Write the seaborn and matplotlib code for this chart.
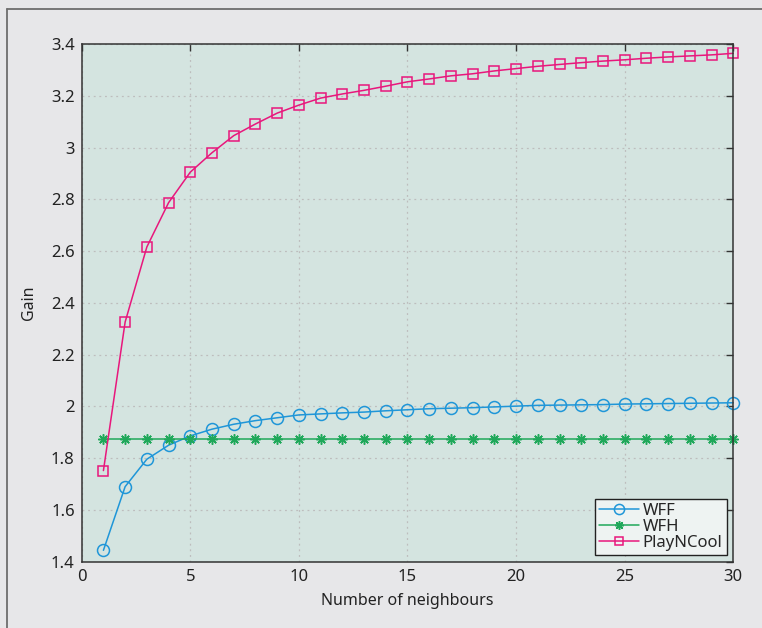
import matplotlib
matplotlib.use("Agg")
import matplotlib.pyplot as plt
import seaborn as sns
import pandas as pd
from matplotlib.lines import Line2D

neighbours = list(range(1, 31))
wff = [1.444, 1.690, 1.796, 1.850, 1.886, 1.912, 1.931, 1.945, 1.956, 1.967,
       1.971, 1.975, 1.978, 1.983, 1.987, 1.991, 1.993, 1.995, 1.998, 2.001,
       2.004, 2.005, 2.006, 2.007, 2.009, 2.010, 2.011, 2.012, 2.013, 2.014]
wfh = [1.875] * 30
playncool = [1.752, 2.326, 2.616, 2.787, 2.905, 2.980, 3.046, 3.091, 3.133, 3.164,
             3.191, 3.207, 3.221, 3.237, 3.254, 3.265, 3.277, 3.285, 3.296, 3.305,
             3.314, 3.321, 3.328, 3.334, 3.339, 3.345, 3.350, 3.354, 3.358, 3.364]
series_names = ["WFF", "WFH", "PlayNCool"]
xticks = [0, 5, 10, 15, 20, 25, 30]
yticks = [1.4, 1.6, 1.8, 2.0, 2.2, 2.4, 2.6, 2.8, 3.0, 3.2, 3.4]
ytick_labels = ["1.4", "1.6", "1.8", "2", "2.2", "2.4", "2.6", "2.8", "3", "3.2", "3.4"]

df = pd.DataFrame({
    "x": neighbours * 3,
    "Gain": wff + wfh + playncool,
    "series": [series_names[0]] * 30 + [series_names[1]] * 30 + [series_names[2]] * 30,
})

sns.set_theme(style="white")
plt.rcParams["font.family"] = ["Noto Sans", "DejaVu Sans"]

colors = {"WFF": "#1f96d8", "WFH": "#1fa85a", "PlayNCool": "#e8177c"}
markers = {"WFF": "o", "WFH": (8, 2, 0), "PlayNCool": "s"}
msizes = {"WFF": 8.6, "WFH": 7.4, "PlayNCool": 7.6}

fig = plt.figure(figsize=(7.62, 6.28), dpi=100, facecolor="#e7e7e9")
ax = fig.add_axes([81.7 / 762, 1 - 561.7 / 628, (733.3 - 81.7) / 762, (561.7 - 44) / 628])
ax.set_facecolor("#d4e4e0")

for name in series_names:
    sub = df[df["series"] == name]
    sns.lineplot(data=sub, x="x", y="Gain", ax=ax, color=colors[name],
                 marker=markers[name], markersize=msizes[name],
                 markerfacecolor="none", markeredgecolor=colors[name],
                 markeredgewidth=1.1, linewidth=1.1, label=name, clip_on=False)

ax.set_xlim(0, 30)
ax.set_ylim(1.4, 3.4)
ax.set_xticks(xticks)
ax.set_yticks(yticks)
ax.set_yticklabels(ytick_labels)
ax.grid(True, linestyle=(0, (1.5, 3)), color="#bdbdbd", linewidth=0.9)
ax.tick_params(direction="in", top=True, right=True, length=5, width=1,
               color="#333333", labelsize=12, labelcolor="#222222", pad=5)
for s in ax.spines.values():
    s.set_color("#333333")
    s.set_linewidth(1.1)
ax.set_xlabel("Number of neighbours", fontsize=11.5, color="#222222", labelpad=6)
ax.set_ylabel("Gain", fontsize=11.5, color="#222222", labelpad=10)

leg = ax.legend(loc="lower right", fontsize=12, frameon=True, fancybox=False,
                borderpad=0.25, labelspacing=0.0, handlelength=2.4,
                handletextpad=0.2, borderaxespad=0.4, markerscale=0.85)
leg.get_frame().set_edgecolor("#222222")
leg.get_frame().set_facecolor("#eef3f2")
leg.get_frame().set_linewidth(1.0)
leg.get_frame().set_alpha(1)

# figure frame (top and left border)
fig.add_artist(Line2D([7 / 762, 1.0], [1 - 9 / 628, 1 - 9 / 628], color="#6e6e6e", linewidth=1.3, transform=fig.transFigure))
fig.add_artist(Line2D([7 / 762, 7 / 762], [0.0, 1 - 9 / 628], color="#6e6e6e", linewidth=1.3, transform=fig.transFigure))

fig.savefig("out.png", dpi=100, facecolor=fig.get_facecolor())
